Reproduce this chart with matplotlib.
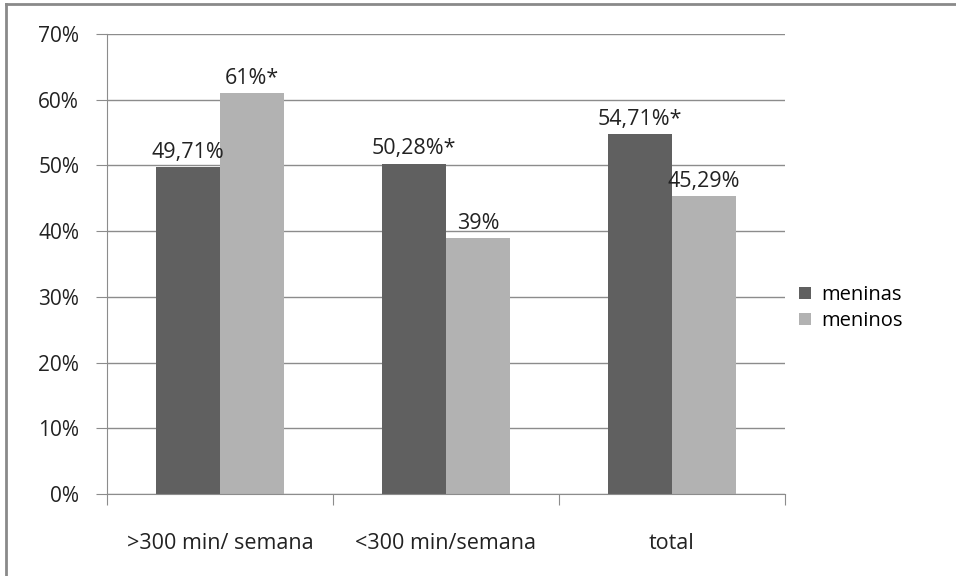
import numpy as np
import matplotlib.pyplot as plt
from matplotlib.lines import Line2D
from matplotlib.ticker import FuncFormatter

plt.rcParams['font.family'] = ['Open Sans', 'DejaVu Sans']

categories = ['>300 min/ semana', '<300 min/semana', 'total']
meninas = [49.71, 50.28, 54.71]
meninos = [61.0, 39.0, 45.29]
labels_meninas = ['49,71%', '50,28%*', '54,71%*']
labels_meninos = ['61%*', '39%', '45,29%']

dark = '#606060'
light = '#b2b2b2'
grid_color = '#8c8c8c'
text_color = '#222222'

fig = plt.figure(figsize=(9.56, 5.76), dpi=100)
ax = fig.add_axes([0.1119, 0.1424, 0.7092, 0.7986])

x = np.arange(len(categories))
w = 0.285
b1 = ax.bar(x - w / 2, meninas, w, color=dark, label='meninas', zorder=3)
b2 = ax.bar(x + w / 2, meninos, w, color=light, label='meninos', zorder=3)

for bars, texts in ((b1, labels_meninas), (b2, labels_meninos)):
    for bar, t in zip(bars, texts):
        ax.annotate(t, (bar.get_x() + bar.get_width() / 2, bar.get_height()),
                    xytext=(0, 3), textcoords='offset points',
                    ha='center', va='bottom', fontsize=15.5, color=text_color)

ax.set_xlim(-0.5, len(categories) - 0.5)
ax.set_ylim(0, 70)
ax.set_yticks(np.arange(0, 71, 10))
ax.yaxis.set_major_formatter(FuncFormatter(lambda v, p: f'{int(v)}%'))
ax.yaxis.grid(True, color=grid_color, linewidth=1, zorder=0)

# category ticks sit on the boundaries between groups
ax.set_xticks(np.arange(-0.5, len(categories), 1.0))
ax.set_xticklabels([])
ax.set_xticks(x, minor=True)
ax.set_xticklabels(categories, minor=True, fontsize=15.5, color=text_color)
ax.tick_params(axis='x', which='minor', length=0, pad=28)
ax.tick_params(axis='x', which='major', length=8, color=grid_color, direction='out')
ax.tick_params(axis='y', length=8, color=grid_color, labelsize=15,
               labelcolor=text_color, pad=12)

for s in ('top', 'right'):
    ax.spines[s].set_visible(False)
for s in ('left', 'bottom'):
    ax.spines[s].set_color(grid_color)
    ax.spines[s].set_zorder(4)

ax.legend(loc='center left', bbox_to_anchor=(1.0, 0.404), frameon=False,
          fontsize=14.5, handlelength=0.6, handleheight=0.6, handletextpad=0.5,
          labelspacing=0.3, borderaxespad=0.3)

# outer chart frame (top and left edges)
fig.add_artist(Line2D([6 / 956, 6 / 956], [0, 1 - 4 / 576], color='#8a8a8a',
                      linewidth=2, transform=fig.transFigure))
fig.add_artist(Line2D([6 / 956, 1], [1 - 4 / 576, 1 - 4 / 576], color='#8a8a8a',
                      linewidth=2, transform=fig.transFigure))

fig.savefig('out.png', dpi=100)
